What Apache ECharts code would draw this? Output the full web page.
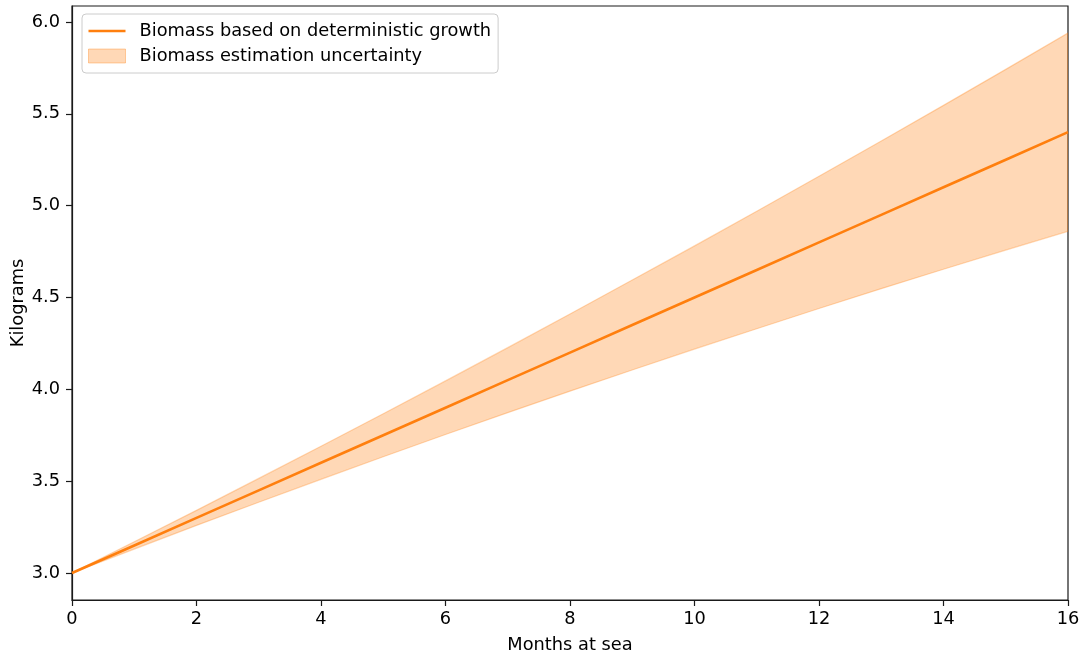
<!DOCTYPE html>
<html>
<head>
<meta charset="utf-8">
<title>Biomass growth</title>
<script src="https://cdn.jsdelivr.net/npm/echarts@6/dist/echarts.min.js"></script>
<style>
  html, body { margin: 0; padding: 0; background: #ffffff; }
  #chart { width: 1084px; height: 657px; }
</style>
</head>
<body>
<div id="chart"></div>
<script>
// Months at sea (x values)
const months = [0, 1, 2, 3, 4, 5, 6, 7, 8, 9, 10, 11, 12, 13, 14, 15, 16];
// Biomass per fish with deterministic growth (kg)
const biomass = [3.00, 3.15, 3.30, 3.45, 3.60, 3.75, 3.90, 4.05, 4.20, 4.35, 4.50, 4.65, 4.80, 4.95, 5.10, 5.25, 5.40];
// Upper and lower edges of the estimation uncertainty band (kg)
const upperBound = [3.000, 3.170, 3.341, 3.515, 3.690, 3.867, 4.046, 4.227, 4.410, 4.595, 4.781, 4.970, 5.160, 5.352, 5.546, 5.742, 5.940];
const lowerBound = [3.000, 3.130, 3.259, 3.385, 3.510, 3.633, 3.754, 3.873, 3.990, 4.105, 4.219, 4.330, 4.440, 4.548, 4.654, 4.758, 4.860];
// Tick values on both axes
const yTicks = [3.0, 3.5, 4.0, 4.5, 5.0, 5.5, 6.0];
const xTicks = [0, 2, 4, 6, 8, 10, 12, 14, 16];

const LINE_NAME = 'Biomass based on deterministic growth';
const BAND_NAME = 'Biomass estimation uncertainty';
const ORANGE = '#ff7f0e';
const BAND_FILL = 'rgba(255,127,14,0.3)';
const FONT = 'DejaVu Sans';
const FS = 17.8;

// Legend swatch for the line: a thin bar centred in a 37x14 box
// (the tiny corner triangles fix the box so the bar is not stretched).
const LINE_ICON = 'path://M0,0L0.01,0L0,0.01Z M0,5.8H37V8.2H0Z M37,14L36.99,14L37,13.99Z';

const linePts = months.map((m, i) => [m, biomass[i]]);
const bandRows = months.map((m, i) => [m, lowerBound[i], upperBound[i]]);

// The band is one polygon: along the upper edge, then back along the lower edge.
function renderBand(params, api) {
  if (params.dataIndex !== 0) return null;
  const top = bandRows.map(r => api.coord([r[0], r[2]]));
  const bottom = bandRows.map(r => api.coord([r[0], r[1]])).reverse();
  return {
    type: 'polygon',
    shape: { points: top.concat(bottom) },
    style: { fill: BAND_FILL, stroke: BAND_FILL, lineWidth: 1.2 },
    silent: true
  };
}

const chart = echarts.init(document.getElementById('chart'), null, { renderer: 'canvas' });

chart.setOption({
  backgroundColor: '#ffffff',
  animation: false,
  textStyle: { fontFamily: FONT },
  grid: {
    left: 72, right: 16, top: 6, bottom: 57,
    outerBoundsMode: 'none',
    containLabel: false,
    show: true, borderColor: '#1a1a1a', borderWidth: 1.2, backgroundColor: 'transparent'
  },
  legend: {
    orient: 'vertical',
    left: 82, top: 14,
    padding: [7, 7, 7, 6],
    itemGap: 5,
    itemWidth: 37,
    itemHeight: 14,
    backgroundColor: 'rgba(255,255,255,0.8)',
    borderColor: '#cccccc',
    borderWidth: 1,
    borderRadius: 4,
    textStyle: { fontFamily: FONT, fontSize: FS, lineHeight: 20, color: '#000000', padding: [0, 0, 0, 9] },
    data: [
      { name: LINE_NAME, icon: LINE_ICON, itemStyle: { color: ORANGE, borderWidth: 0 } },
      { name: BAND_NAME, icon: 'rect',
        itemStyle: { color: BAND_FILL, borderColor: 'rgba(255,127,14,0.35)', borderWidth: 1 } }
    ]
  },
  xAxis: {
    type: 'value',
    min: 0, max: 16, interval: 2,
    name: 'Months at sea',
    nameLocation: 'middle',
    nameGap: 36,
    nameMoveOverlap: false,
    nameTextStyle: { fontFamily: FONT, fontSize: FS, color: '#000000' },
    axisLine: { show: true, onZero: false, lineStyle: { color: '#1a1a1a', width: 1.2 } },
    axisTick: { show: true, length: 6, lineStyle: { color: '#1a1a1a', width: 1.2 } },
    axisLabel: {
      fontFamily: FONT, fontSize: FS, color: '#000000', margin: 10,
      customValues: xTicks
    },
    splitLine: { show: false }
  },
  yAxis: {
    type: 'value',
    min: 2.853, max: 6.087,
    name: 'Kilograms',
    nameLocation: 'middle',
    nameGap: 45,
    nameMoveOverlap: false,
    nameRotate: 90,
    nameTextStyle: { fontFamily: FONT, fontSize: FS, color: '#000000' },
    axisLine: { show: true, onZero: false, lineStyle: { color: '#1a1a1a', width: 1.2 } },
    axisTick: { show: true, length: 6, lineStyle: { color: '#1a1a1a', width: 1.2 }, customValues: yTicks },
    axisLabel: {
      fontFamily: FONT, fontSize: FS, color: '#000000', margin: 12,
      customValues: yTicks,
      formatter: v => Number(v).toFixed(1)
    },
    splitLine: { show: false }
  },
  series: [
    {
      name: BAND_NAME,
      type: 'custom',
      renderItem: renderBand,
      data: bandRows,
      encode: { x: 0, y: [1, 2] },
      color: BAND_FILL,
      clip: true,
      silent: true,
      z: 1
    },
    {
      name: LINE_NAME,
      type: 'line',
      data: linePts,
      symbol: 'none',
      color: ORANGE,
      lineStyle: { color: ORANGE, width: 2.6 },
      z: 3
    }
  ]
});
</script>
</body>
</html>
